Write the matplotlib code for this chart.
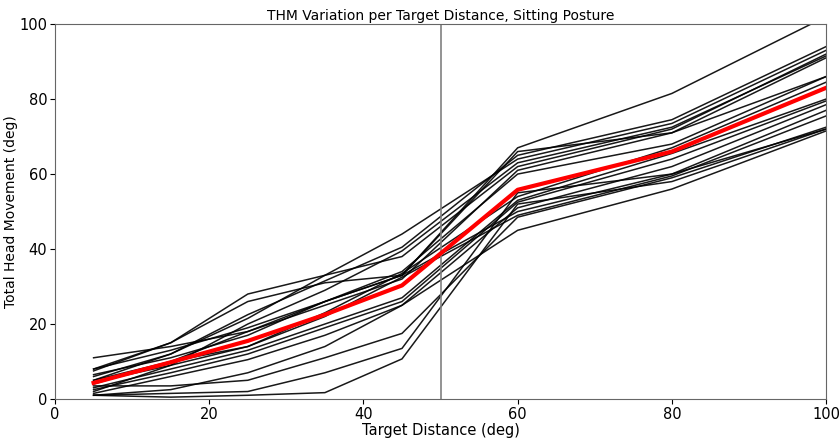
import matplotlib
matplotlib.use("Agg")
import matplotlib.pyplot as plt

# target distances (deg)
distances = [5, 15, 25, 35, 45, 60, 80, 100]

# total head movement per participant (deg)
participants = [
    [8.0, 13.0, 19.0, 26.0, 33.0, 67.0, 81.5, 102.0],
    [7.5, 15.0, 28.0, 33.0, 38.0, 62.0, 72.0, 92.0],
    [11.0, 14.0, 18.0, 25.0, 32.0, 61.0, 71.0, 91.0],
    [6.0, 12.0, 22.5, 31.5, 40.5, 65.0, 74.5, 94.0],
    [5.0, 12.0, 21.5, 33.0, 44.0, 64.0, 73.5, 93.0],
    [2.0, 9.0, 20.0, 29.0, 39.5, 63.0, 72.5, 91.5],
    [6.5, 11.0, 17.0, 26.0, 34.0, 60.0, 68.0, 86.0],
    [4.0, 10.0, 14.0, 23.0, 33.5, 54.0, 67.0, 84.5],
    [3.0, 8.0, 13.0, 20.0, 27.0, 53.0, 65.5, 80.0],
    [2.5, 7.0, 12.0, 19.0, 26.0, 52.5, 64.0, 79.5],
    [1.5, 6.0, 10.5, 17.0, 25.0, 51.0, 62.0, 78.5],
    [8.0, 15.0, 26.0, 31.0, 33.0, 50.0, 60.0, 77.0],
    [4.5, 9.0, 14.0, 22.0, 32.5, 49.0, 59.5, 75.5],
    [3.5, 3.5, 5.0, 11.0, 17.5, 48.5, 59.0, 72.5],
    [1.0, 2.5, 7.0, 14.0, 25.0, 45.0, 56.0, 71.5],
    [1.0, 1.5, 2.0, 7.0, 13.5, 55.0, 60.0, 72.0],
    [1.0, 0.5, 1.0, 1.7, 10.7, 52.0, 58.0, 72.0],
    [5.0, 10.0, 18.0, 26.0, 33.0, 66.0, 71.0, 86.0],
]

# average across participants
mean_thm = [4.3, 9.8, 15.5, 22.5, 30.3, 55.8, 66.0, 83.0]

fig = plt.figure(figsize=(8.39, 4.38), dpi=100)
ax = fig.add_axes([0.0656, 0.089, 0.919, 0.856])

for vals in participants:
    ax.plot(distances, vals, color='black', lw=1.1, alpha=0.9)
ax.plot(distances, mean_thm, color='red', lw=3, zorder=5)

ax.axvline(50, color='gray', lw=1.2)

ax.set_xlim(0, 100)
ax.set_ylim(0, 100)
ax.set_xticks([0, 20, 40, 60, 80, 100])
ax.set_yticks([0, 20, 40, 60, 80, 100])
ax.tick_params(labelsize=10.5, pad=2)
for s in ax.spines.values():
    s.set_color('#666666')

ax.set_title('THM Variation per Target Distance, Sitting Posture', fontsize=10, pad=3)
ax.set_xlabel('Target Distance (deg)', fontsize=10.5, labelpad=1)
ax.set_ylabel('Total Head Movement (deg)', fontsize=10, labelpad=1)

fig.savefig('out.png', dpi=100)
